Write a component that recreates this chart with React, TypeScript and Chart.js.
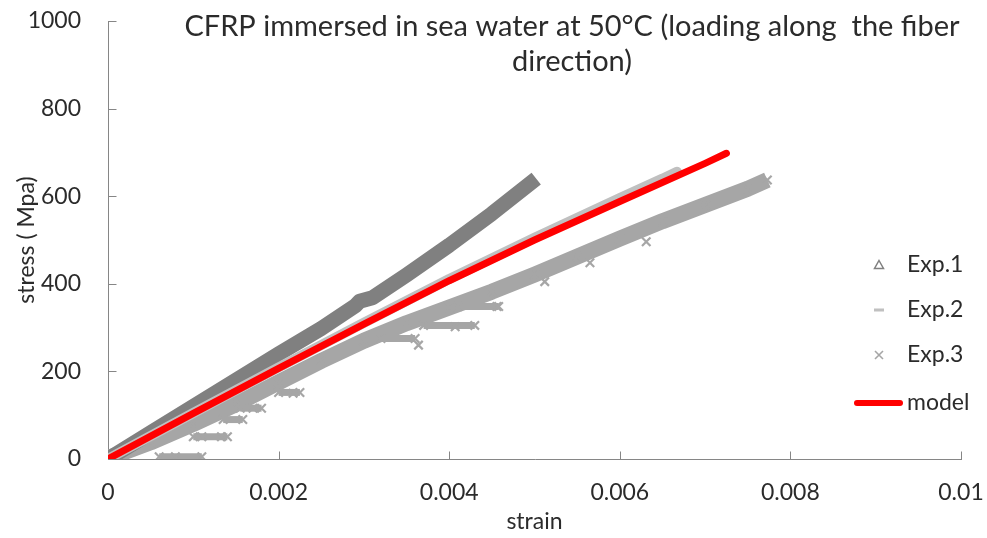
import React, { useEffect, useRef } from "react";
import { Chart, registerables } from "chart.js";

Chart.register(...registerables);

const FONT = "Lato, 'Open Sans', sans-serif";
const TEXT = "#2b2b2b";
const AXIS = "#868686";

const TITLE_LINES = ["CFRP immersed in sea water at 50°C (loading along  the fiber", "direction)"];
const X_TITLE = "strain";
const Y_TITLE = "stress ( Mpa)";

const X_TICKS = [0, 0.002, 0.004, 0.006, 0.008, 0.01];
const X_TICK_LABELS = ["0", "0.002", "0.004", "0.006", "0.008", "0.01"];
const Y_TICKS = [0, 200, 400, 600, 800, 1000];
const Y_TICK_LABELS = ["0", "200", "400", "600", "800", "1000"];

const SERIES_NAMES = ["Exp.1", "Exp.2", "Exp.3", "model"];

// [strain, stress (MPa)]
const EXP1 = [
  [0, 0], [0.0005, 60], [0.001, 120], [0.0015, 180], [0.002, 240], [0.0025, 298],
  [0.0029, 350], [0.00295, 360], [0.0031, 368], [0.0035, 420], [0.004, 488],
  [0.0045, 560], [0.00502, 640],
];

const EXP2 = [
  [0, 0], [0.001, 105], [0.002, 209], [0.003, 311], [0.004, 411], [0.005, 505],
  [0.006, 596], [0.0065, 640], [0.00667, 656],
];

// main trace of specimen 3
const EXP3 = [
  [0, 2], [0.0005, 38], [0.001, 80], [0.0015, 125], [0.002, 175], [0.0025, 224],
  [0.003, 270], [0.0035, 310], [0.004, 346], [0.0045, 382], [0.005, 421],
  [0.0055, 462], [0.006, 503], [0.0065, 543], [0.007, 580], [0.0075, 617],
  [0.00773, 637],
];

// load holds of specimen 3: [stress, strain at start, strain at end]
const EXP3_HOLDS = [
  [5, 0.0006, 0.0011],
  [51, 0.001, 0.0014],
  [90, 0.00135, 0.00158],
  [116, 0.00155, 0.0018],
  [152, 0.002, 0.00225],
  [275, 0.0032, 0.0036],
  [305, 0.0037, 0.0043],
  [348, 0.0041, 0.00458],
];

// isolated readings of specimen 3
const EXP3_MARKS = [
  [0.00079, 5], [0.0011, 51], [0.00133, 51], [0.0017, 116], [0.00217, 150],
  [0.00364, 260], [0.00407, 302], [0.00456, 348], [0.00512, 405], [0.00565, 448],
  [0.00631, 496],
];

const MODEL = [
  [0, 0], [0.001, 104], [0.002, 207], [0.003, 308], [0.004, 407], [0.005, 500],
  [0.006, 588], [0.007, 675], [0.00725, 698],
];

const toPoints = (rows: number[][]) => rows.map(([x, y]) => ({ x, y }));
const GAP = () => ({ x: NaN, y: null as any });

function exp3Points() {
  const pts: any[] = toPoints(EXP3);
  for (const [s, a, b] of EXP3_HOLDS) {
    pts.push(GAP(), { x: a, y: s }, { x: b, y: s });
  }
  for (const [x, y] of EXP3_MARKS) {
    pts.push(GAP(), { x, y });
  }
  return pts;
}

const framePlugin = {
  id: "frame",
  beforeDatasetsDraw(chart: any) {
    const { ctx, chartArea: a, scales } = chart;
    const x = scales.x;
    const y = scales.y;
    ctx.save();
    ctx.strokeStyle = AXIS;
    ctx.lineWidth = 1;
    ctx.beginPath();
    const left = Math.round(a.left) + 0.5;
    const bottom = Math.round(a.bottom) + 0.5;
    ctx.moveTo(left, Math.round(a.top));
    ctx.lineTo(left, bottom);
    ctx.lineTo(Math.round(a.right) + 1, bottom);
    for (const v of Y_TICKS) {
      const py = Math.round(y.getPixelForValue(v)) + 0.5;
      ctx.moveTo(left, py);
      ctx.lineTo(left + 8, py);
    }
    for (const v of X_TICKS) {
      const px = Math.round(x.getPixelForValue(v)) + 0.5;
      ctx.moveTo(px, bottom);
      ctx.lineTo(px, bottom - 8);
    }
    ctx.stroke();
    ctx.restore();
  },
};

const titlePlugin = {
  id: "titleText",
  afterDraw(chart: any) {
    const { ctx } = chart;
    ctx.save();
    ctx.fillStyle = TEXT;
    ctx.font = `29px ${FONT}`;
    ctx.textAlign = "center";
    ctx.textBaseline = "middle";
    TITLE_LINES.forEach((line, i) => ctx.fillText(line, 572, 27 + i * 35));
    ctx.restore();
  },
};

const legendPlugin = {
  id: "legendBox",
  afterDraw(chart: any) {
    const { ctx } = chart;
    const ds = chart.data.datasets;
    const mx = 879;
    const tx = 907;
    const rows = [265, 310, 355, 403];
    ctx.save();
    // Exp.1: open triangle
    ctx.strokeStyle = ds[0].borderColor;
    ctx.lineWidth = 1.5;
    ctx.beginPath();
    ctx.moveTo(mx, rows[0] - 4.5);
    ctx.lineTo(mx + 4.5, rows[0] + 3.5);
    ctx.lineTo(mx - 4.5, rows[0] + 3.5);
    ctx.closePath();
    ctx.stroke();
    // Exp.2: short dash
    ctx.fillStyle = ds[1].borderColor;
    ctx.fillRect(mx - 5, rows[1] - 1.5, 10, 3);
    // Exp.3: cross
    ctx.strokeStyle = ds[2].borderColor;
    ctx.lineWidth = 1.6;
    ctx.beginPath();
    ctx.moveTo(mx - 4, rows[2] - 4);
    ctx.lineTo(mx + 4, rows[2] + 4);
    ctx.moveTo(mx + 4, rows[2] - 4);
    ctx.lineTo(mx - 4, rows[2] + 4);
    ctx.stroke();
    // model: line
    ctx.strokeStyle = ds[3].borderColor;
    ctx.lineWidth = 6;
    ctx.lineCap = "round";
    ctx.beginPath();
    ctx.moveTo(857, rows[3]);
    ctx.lineTo(900, rows[3]);
    ctx.stroke();
    ctx.fillStyle = TEXT;
    ctx.font = `23px ${FONT}`;
    ctx.textAlign = "left";
    ctx.textBaseline = "middle";
    SERIES_NAMES.forEach((name, i) => ctx.fillText(name, tx, rows[i]));
    ctx.restore();
  },
};

export default function App() {
  const ref = useRef<HTMLCanvasElement>(null);

  useEffect(() => {
    if (!ref.current) return;
    const chart = new Chart(ref.current, {
      type: "scatter",
      data: {
        datasets: [
          {
            label: SERIES_NAMES[0],
            data: toPoints(EXP1),
            showLine: true,
            borderColor: "#808080",
            backgroundColor: "#808080",
            borderWidth: 15,
            borderCapStyle: "butt",
            borderJoinStyle: "round",
            pointRadius: 0,
            pointStyle: "triangle",
            order: 2,
          },
          {
            label: SERIES_NAMES[1],
            data: toPoints(EXP2),
            showLine: true,
            borderColor: "#c0c0c0",
            backgroundColor: "#c0c0c0",
            borderWidth: 10,
            borderCapStyle: "round",
            borderJoinStyle: "round",
            pointRadius: 0,
            pointStyle: "line",
            order: 1,
          },
          {
            label: SERIES_NAMES[2],
            data: exp3Points(),
            showLine: true,
            spanGaps: false,
            borderColor: "#a6a6a6",
            backgroundColor: "#a6a6a6",
            borderWidth: 16,
            borderCapStyle: "butt",
            borderJoinStyle: "round",
            segment: {
              borderWidth: (c: any) => (c.p0.parsed.y === c.p1.parsed.y ? 7 : 16),
            },
            pointStyle: "crossRot",
            pointRadius: 6,
            pointBorderWidth: 2.2,
            pointBorderColor: "#a6a6a6",
            order: 3,
          },
          {
            label: SERIES_NAMES[3],
            data: toPoints(MODEL),
            showLine: true,
            borderColor: "#ff0000",
            backgroundColor: "#ff0000",
            borderWidth: 7,
            borderCapStyle: "round",
            borderJoinStyle: "round",
            pointRadius: 0,
            order: 0,
          },
        ],
      },
      options: {
        animation: false,
        responsive: false,
        devicePixelRatio: 1,
        layout: { padding: { top: 21, right: 26, left: 0, bottom: 0 } },
        plugins: {
          legend: { display: false },
          tooltip: { enabled: false },
          title: { display: false },
        },
        scales: {
          x: {
            type: "linear",
            min: 0,
            max: 0.01,
            afterFit: (s: any) => {
              s.height = 79;
              s.paddingLeft = 0;
              s.paddingRight = 0;
            },
            afterBuildTicks: (s: any) => {
              s.ticks = X_TICKS.map((value) => ({ value }));
            },
            grid: { display: false, drawTicks: false },
            border: { display: false },
            ticks: {
              padding: 20,
              color: TEXT,
              font: { family: FONT, size: 23 },
              maxRotation: 0,
              callback: (v: any) => X_TICK_LABELS[X_TICKS.indexOf(Number(v))] ?? "",
            },
            title: {
              display: true,
              text: X_TITLE,
              color: TEXT,
              font: { family: FONT, size: 23 },
              padding: { top: 0, bottom: 3 },
            },
          },
          y: {
            type: "linear",
            min: 0,
            max: 1000,
            afterFit: (s: any) => {
              s.width = 108;
              s.paddingTop = 0;
              s.paddingBottom = 0;
            },
            afterBuildTicks: (s: any) => {
              s.ticks = Y_TICKS.map((value) => ({ value }));
            },
            grid: { display: false, drawTicks: false },
            border: { display: false },
            ticks: {
              padding: 27,
              color: TEXT,
              font: { family: FONT, size: 23 },
              callback: (v: any) => Y_TICK_LABELS[Y_TICKS.indexOf(Number(v))] ?? "",
            },
            title: {
              display: true,
              text: Y_TITLE,
              color: TEXT,
              font: { family: FONT, size: 23 },
              padding: { top: 13, bottom: 0 },
            },
          },
        },
      },
      plugins: [framePlugin, titlePlugin, legendPlugin],
    } as any);
    return () => chart.destroy();
  }, []);

  return (
    <div style={{ position: "fixed", left: 0, top: 0, width: 987, height: 538, background: "#fff" }}>
      <canvas ref={ref} width={987} height={538} style={{ width: 987, height: 538, display: "block" }} />
    </div>
  );
}
